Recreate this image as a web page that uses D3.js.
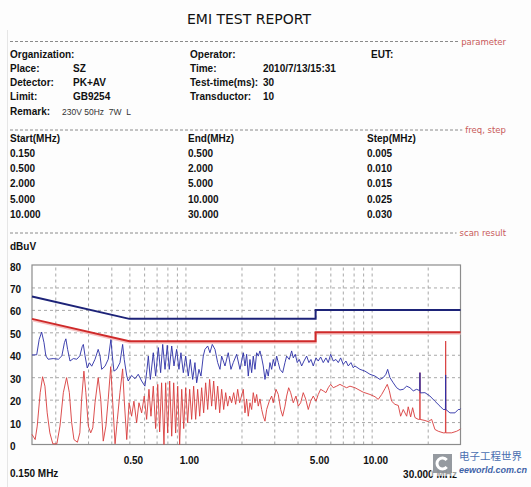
<!DOCTYPE html>
<html>
<head>
<meta charset="utf-8">
<script src="https://cdn.jsdelivr.net/npm/d3@7/dist/d3.min.js"></script>
<style>
  body { margin: 0; background: #fff; }
  text { font-family: "Liberation Sans", Arial, sans-serif; }
</style>
</head>
<body>
<div id="report"></div>
<script>
// ---- report fields ----
var paramLabelsLeft = ["Organization:", "Place:", "Detector:", "Limit:", "Remark:"];
var paramValuesLeft = ["", "SZ", "PK+AV", "GB9254", "230V 50Hz  7W  L"];
var paramLabelsMid = ["Operator:", "Time:", "Test-time(ms):", "Transductor:"];
var paramValuesMid = ["", "2010/7/13/15:31", "30", "10"];
var paramLabelsRight = ["EUT:"];

var scanHeader = ["Start(MHz)", "End(MHz)", "Step(MHz)"];
var scanStart = ["0.150", "0.500", "2.000", "5.000", "10.000"];
var scanEnd = ["0.500", "2.000", "5.000", "10.000", "30.000"];
var scanStep = ["0.005", "0.010", "0.015", "0.025", "0.030"];

// ---- chart axes ----
var yTicks = [0, 10, 20, 30, 40, 50, 60, 70, 80];
var xLabelFreqs = [0.5, 1, 5, 10];
var xLabelText = ["0.50", "1.00", "5.00", "10.00"];
var gridFreqs = [0.2, 0.3, 0.4, 0.5, 0.6, 0.7, 0.8, 0.9, 1, 2, 3, 4, 5, 6, 7, 8, 9, 10, 20];

// ---- limit lines (GB9254) ----
var limitFreq = [0.15, 0.5, 5, 5, 30];
var qpLimit = [66, 56, 56, 60, 60];
var avLimit = [56, 46, 46, 50, 50];

// ---- peak trace (blue) ----
var pkFreq = [0.150, 0.159, 0.164, 0.169, 0.174, 0.178, 0.183, 0.195, 0.208, 0.217, 0.224, 0.228, 0.233, 0.240, 0.250, 0.261, 0.271, 0.279, 0.283, 0.289,
  0.297, 0.305, 0.314, 0.327, 0.340, 0.348, 0.355, 0.370, 0.385, 0.398, 0.405, 0.413, 0.427, 0.445, 0.460, 0.469, 0.484, 0.493, 0.514, 0.536,
  0.558, 0.582, 0.606, 0.622, 0.632, 0.648, 0.672, 0.692, 0.715, 0.736, 0.755, 0.777, 0.799, 0.819, 0.844, 0.868, 0.897, 0.923, 0.946, 0.974,
  1.003, 1.036, 1.062, 1.094, 1.125, 1.149, 1.182, 1.212, 1.247, 1.273, 1.317, 1.354, 1.394, 1.441, 1.490, 1.533, 1.565, 1.631, 1.698, 1.756,
  1.807, 1.884, 1.963, 2.045, 2.088, 2.132, 2.175, 2.221, 2.268, 2.314, 2.363, 2.413, 2.461, 2.513, 2.567, 2.618, 2.674, 2.730, 2.785, 2.844,
  2.904, 2.963, 3.026, 3.090, 3.152, 3.218, 3.328, 3.424, 3.496, 3.611, 3.719, 3.794, 3.889, 3.986, 4.086, 4.209, 4.330, 4.477, 4.606, 4.721,
  4.858, 5.023, 5.168, 5.323, 5.497, 5.684, 5.848, 6.024, 6.221, 6.432, 6.618, 6.817, 7.040, 7.279, 7.489, 7.741, 7.966, 8.135, 8.653, 9.206,
  9.792, 10.42, 11.08, 11.54, 11.93, 12.19, 12.54, 13.06, 13.62, 14.19, 14.78, 15.42, 16.06, 16.73, 17.44, 18.12, 18.17, 18.22, 19.33, 20.56,
  21.87, 23.27, 24.24, 24.90, 24.97, 25.04, 26.33, 28.01, 29.18, 29.79, 30.00];
var pkLevel = [39.9, 40.0, 46.9, 50.1, 45.4, 39.5, 38.0, 38.3, 38.0, 39.5, 45.4, 47.1, 42.4, 37.2, 38.3, 38.0, 39.5, 43.6, 44.6, 39.5,
  34.1, 36.4, 34.9, 38.0, 42.4, 39.5, 33.5, 34.9, 38.0, 46.9, 39.5, 32.7, 33.5, 36.4, 44.6, 38.0, 30.6, 28.3, 30.8, 29.3,
  31.3, 28.3, 26.0, 33.5, 39.4, 29.0, 40.9, 30.5, 43.2, 32.0, 44.6, 33.5, 44.2, 33.5, 43.9, 35.0, 42.4, 33.5, 40.9, 32.0,
  39.4, 30.5, 37.9, 29.0, 36.5, 27.5, 33.5, 30.5, 39.4, 42.4, 43.9, 40.9, 44.6, 42.4, 36.5, 33.5, 39.4, 35.0, 40.9, 33.5,
  36.5, 40.2, 33.5, 40.9, 35.0, 40.2, 30.5, 37.9, 32.0, 39.4, 33.5, 40.9, 39.4, 41.7, 38.6, 35.0, 29.0, 33.5, 30.5, 36.5,
  33.5, 37.9, 35.0, 39.4, 36.5, 33.5, 32.0, 36.5, 39.4, 37.9, 41.7, 38.6, 40.2, 36.5, 37.9, 35.0, 37.2, 39.4, 36.5, 37.9,
  35.0, 38.6, 37.2, 39.0, 36.5, 38.6, 36.5, 40.2, 37.2, 37.9, 36.5, 38.6, 35.7, 37.2, 35.0, 36.5, 34.2, 35.0, 33.5, 32.7,
  31.3, 30.5, 29.0, 29.8, 31.3, 33.5, 29.8, 27.5, 25.3, 24.3, 24.6, 26.0, 25.3, 23.9, 24.6, 24.0, 32.0, 23.0, 23.1, 21.6,
  19.3, 17.1, 15.6, 15.6, 31.0, 15.6, 14.1, 14.1, 15.6, 15.6, 16.0];

// ---- average trace (red) ----
var avFreq = [0.150, 0.156, 0.160, 0.166, 0.171, 0.176, 0.181, 0.187, 0.194, 0.204, 0.212, 0.221, 0.230, 0.238, 0.245, 0.252, 0.263, 0.271, 0.277, 0.285,
  0.292, 0.301, 0.310, 0.318, 0.327, 0.340, 0.351, 0.362, 0.374, 0.385, 0.397, 0.407, 0.419, 0.431, 0.445, 0.460, 0.469, 0.484, 0.498, 0.514,
  0.529, 0.547, 0.563, 0.582, 0.601, 0.619, 0.637, 0.653, 0.672, 0.692, 0.710, 0.727, 0.745, 0.767, 0.783, 0.803, 0.823, 0.844, 0.865, 0.886,
  0.909, 0.931, 0.955, 0.979, 1.003, 1.028, 1.054, 1.080, 1.107, 1.135, 1.163, 1.193, 1.222, 1.253, 1.284, 1.317, 1.349, 1.383, 1.418, 1.453,
  1.490, 1.527, 1.565, 1.605, 1.645, 1.686, 1.728, 1.771, 1.816, 1.861, 1.908, 1.955, 2.045, 2.088, 2.132, 2.175, 2.221, 2.268, 2.314, 2.363,
  2.413, 2.461, 2.513, 2.567, 2.618, 2.674, 2.730, 2.820, 2.904, 2.963, 3.063, 3.152, 3.246, 3.328, 3.424, 3.496, 3.584, 3.674, 3.794, 3.923,
  4.036, 4.157, 4.293, 4.422, 4.567, 4.704, 4.858, 5.023, 5.168, 5.323, 5.497, 5.684, 5.848, 6.024, 6.221, 6.488, 6.757, 7.040, 7.342, 7.647,
  8.135, 9.014, 9.792, 10.42, 10.85, 11.32, 11.79, 12.13, 12.43, 12.80, 13.34, 13.90, 14.31, 14.78, 15.42, 15.72, 16.20, 16.60, 17.08, 17.79,
  18.14, 18.17, 18.20, 19.33, 20.13, 21.00, 21.87, 22.79, 24.24, 24.90, 24.97, 25.04, 26.89, 28.60, 29.79, 30.00];
var avLevel = [4.5, 2.2, 8.2, 23.1, 30.2, 26.0, 14.1, 5.2, 0.3, 0.3, 8.2, 23.1, 29.8, 23.1, 9.7, 2.2, 1.0, 5.2, 20.1, 32.7,
  23.1, 8.2, 5.2, 7.4, 18.6, 29.8, 20.1, 1.5, 8.2, 20.1, 34.7, 18.6, 0.3, 11.2, 23.1, 33.7, 20.1, 2.2, 18.6, 12.6,
  19.3, 9.7, 18.6, 14.1, 21.6, 11.2, 24.6, 12.6, 26.0, 7.1, 26.8, 5.6, 27.5, 0.0, 27.5, 5.1, 28.3, 3.7, 27.5, 5.1,
  26.0, 0.0, 24.6, 7.1, 25.3, 9.7, 24.6, 11.2, 26.0, 11.2, 24.6, 12.6, 25.3, 14.1, 27.5, 15.6, 29.0, 17.1, 28.3, 15.6,
  26.0, 14.1, 24.6, 15.6, 23.1, 17.1, 21.6, 18.6, 23.1, 17.9, 24.6, 18.6, 24.6, 14.1, 20.3, 12.6, 18.6, 15.6, 23.1, 18.6,
  22.3, 17.1, 20.3, 15.6, 12.6, 10.4, 15.6, 19.3, 21.6, 18.6, 24.6, 22.3, 15.6, 12.6, 17.1, 21.6, 25.3, 23.1, 18.6, 21.6,
  17.1, 18.6, 23.1, 20.3, 15.6, 19.3, 21.6, 19.3, 22.3, 24.6, 23.9, 23.1, 25.3, 26.8, 25.3, 26.0, 26.8, 26.0, 25.3, 26.0,
  25.3, 23.3, 22.3, 21.3, 20.1, 22.3, 24.9, 26.8, 24.1, 19.3, 17.9, 17.4, 12.6, 15.6, 12.6, 16.8, 12.3, 16.4, 12.0, 11.2,
  11.2, 32.0, 11.2, 10.7, 10.2, 11.2, 6.7, 5.9, 5.2, 5.2, 46.1, 5.2, 5.2, 5.9, 6.7, 7.0];

// ---- drawing ----
var W = 531, H = 487;
var plot = {left: 32, right: 460.5, top: 265, bottom: 444.5};

var svg = d3.select("#report").append("svg")
  .attr("width", W)
  .attr("height", H)
  .style("display", "block");

svg.append("rect").attr("width", W).attr("height", H).attr("fill", "#fdfdfd");
// faint left frame of the printed page
svg.append("line").attr("x1", 7.5).attr("x2", 7.5).attr("y1", 30).attr("y2", 487)
  .attr("stroke", "#e6e6e6");

svg.append("text")
  .attr("x", 249).attr("y", 24)
  .attr("text-anchor", "middle")
  .style("font-family", "'DejaVu Sans', sans-serif")
  .style("font-size", "14px")
  .attr("fill", "#111")
  .text("EMI TEST REPORT");

// section separators with red captions
function section(yPos, caption) {
  var t = svg.append("text")
    .attr("x", 506).attr("y", yPos + 3)
    .attr("text-anchor", "end")
    .style("font-family", "'DejaVu Sans', sans-serif")
    .style("font-size", "8.5px")
    .attr("fill", "#c85a5a")
    .text(caption);
  var w = t.node().getComputedTextLength();
  svg.append("line")
    .attr("x1", 10).attr("x2", 506 - w - 3)
    .attr("y1", yPos).attr("y2", yPos)
    .attr("stroke", "#8a8a8a")
    .attr("stroke-dasharray", "3,2");
}
section(41.5, "parameter");
section(130, "freq, step");
section(233, "scan result");

function boldText(x, y, s) {
  return svg.append("text")
    .attr("x", x).attr("y", y)
    .style("font-size", "10px")
    .style("font-weight", "bold")
    .attr("fill", "#111")
    .text(s);
}

var rowY = [58, 72, 86, 100, 115];
paramLabelsLeft.forEach(function(s, i) { boldText(10, rowY[i], s); });
paramValuesLeft.forEach(function(s, i) {
  if (i === 4) {
    svg.append("text").attr("x", 62).attr("y", rowY[i])
      .style("font-size", "8.5px").attr("fill", "#333")
      .style("white-space", "pre")
      .text(s);
  } else {
    boldText(73, rowY[i], s);
  }
});
paramLabelsMid.forEach(function(s, i) { boldText(190, rowY[i], s); });
paramValuesMid.forEach(function(s, i) { boldText(263, rowY[i], s); });
paramLabelsRight.forEach(function(s, i) { boldText(371, rowY[i], s); });

// scan table
var colX = [10, 188, 367];
var tableY = [142, 157, 172, 187, 203, 218];
scanHeader.forEach(function(s, i) { boldText(colX[i], tableY[0], s); });
[scanStart, scanEnd, scanStep].forEach(function(col, c) {
  col.forEach(function(s, r) { boldText(colX[c], tableY[r + 1], s); });
});

boldText(10, 250, "dBuV");

// ---- chart ----
var x = d3.scaleLog().domain([0.15, 30]).range([plot.left, plot.right]);
var y = d3.scaleLinear().domain([0, 80]).range([plot.bottom, plot.top]);

svg.append("rect")
  .attr("x", plot.left).attr("y", plot.top)
  .attr("width", plot.right - plot.left).attr("height", plot.bottom - plot.top)
  .attr("fill", "#fff");

// dashed grid
var gridY = svg.append("g")
  .attr("transform", "translate(" + plot.left + ",0)")
  .call(d3.axisLeft(y).tickValues(yTicks.slice(1, -1)).tickSize(-(plot.right - plot.left)).tickFormat(""));
var gridX = svg.append("g")
  .attr("transform", "translate(0," + plot.bottom + ")")
  .call(d3.axisBottom(x).tickValues(gridFreqs).tickSize(-(plot.bottom - plot.top)).tickFormat(""));
[gridY, gridX].forEach(function(g) {
  g.select(".domain").remove();
  g.selectAll("line").attr("stroke", "#a8a8a8").style("stroke-dasharray", "3,3");
});

svg.append("rect")
  .attr("x", plot.left).attr("y", plot.top)
  .attr("width", plot.right - plot.left).attr("height", plot.bottom - plot.top)
  .attr("fill", "none").attr("stroke", "#8c8c8c").attr("stroke-width", 1.2);

var line = d3.line()
  .x(function(d) { return x(d[0]); })
  .y(function(d) { return y(d[1]); });

var avPts = d3.zip(avFreq, avLevel);
var pkPts = d3.zip(pkFreq, pkLevel);

svg.append("path").datum(avPts).attr("d", line)
  .attr("fill", "none").attr("stroke", "#d83c3c").attr("stroke-width", 1).attr("stroke-opacity", 0.9);
svg.append("path").datum(pkPts).attr("d", line)
  .attr("fill", "none").attr("stroke", "#2b2fa6").attr("stroke-width", 1).attr("stroke-opacity", 0.9);

// limit lines
var qpPts = d3.zip(limitFreq, qpLimit);
var avLimPts = d3.zip(limitFreq, avLimit);
svg.append("path").datum(avLimPts).attr("d", line)
  .attr("transform", "translate(0,1.5)")
  .attr("fill", "none").attr("stroke", "#f6c4c4").attr("stroke-width", 2);
svg.append("path").datum(avLimPts).attr("d", line)
  .attr("fill", "none").attr("stroke", "#cf2a2a").attr("stroke-width", 2);
svg.append("path").datum(qpPts).attr("d", line)
  .attr("fill", "none").attr("stroke", "#1d2378").attr("stroke-width", 2);

// axis labels
svg.selectAll(".ylab").data(yTicks).enter().append("text")
  .attr("class", "ylab")
  .attr("x", 10).attr("y", function(d) { return y(d) + 2; })
  .attr("dy", "0.35em")
  .style("font-size", "10px").style("font-weight", "bold").attr("fill", "#111")
  .text(function(d) { return d; });

svg.selectAll(".xlab").data(xLabelFreqs).enter().append("text")
  .attr("class", "xlab")
  .attr("x", function(d) { return x(d) + 4; }).attr("y", 464)
  .attr("text-anchor", "middle")
  .style("font-size", "10px").style("font-weight", "bold").attr("fill", "#111")
  .text(function(d, i) { return xLabelText[i]; });

boldText(10, 477, "0.150 MHz");
boldText(457, 478, "30.000 MHz").attr("text-anchor", "end");

// watermark (site logo over the corner)
var wm = svg.append("g");
wm.append("rect").attr("x", 431).attr("y", 451).attr("width", 100).attr("height", 25)
  .attr("fill", "#fff").attr("opacity", 0.6);
wm.append("rect").attr("x", 433).attr("y", 454).attr("width", 19).attr("height", 19)
  .attr("fill", "#8a8f96").attr("opacity", 0.9);
wm.append("path")
  .attr("d", d3.arc()({innerRadius: 4, outerRadius: 7, startAngle: 0.7, endAngle: 2 * Math.PI - 0.7}))
  .attr("transform", "translate(442.5,463.5) rotate(90)")
  .attr("fill", "#fff");
wm.append("text").attr("x", 459).attr("y", 460)
  .style("font-family", "'Noto Sans CJK SC', sans-serif").style("font-size", "10.5px")
  .attr("fill", "#4a6fb0").text("电子工程世界");
wm.append("text").attr("x", 459).attr("y", 473)
  .style("font-size", "9px").style("font-style", "italic").style("font-weight", "bold")
  .attr("fill", "#3e63a8").text("eeworld.com.cn");
</script>
</body>
</html>
